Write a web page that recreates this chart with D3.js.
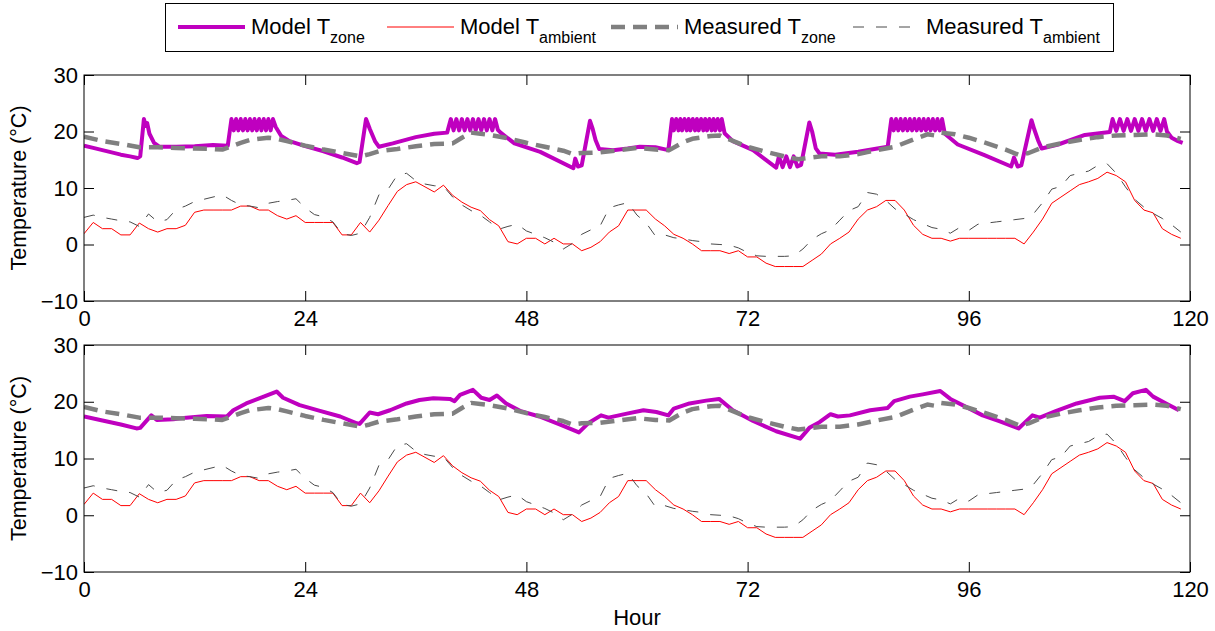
<!DOCTYPE html>
<html>
<head>
<meta charset="utf-8">
<script src="https://cdn.jsdelivr.net/npm/d3@7"></script>
<style>
  html, body { margin: 0; padding: 0; background: #fff; }
  svg { display: block; }
</style>
</head>
<body>
<svg id="chart" width="1215" height="631"></svg>
<script>
// ---- data -------------------------------------------------------------
const hourTicks = [0, 24, 48, 72, 96, 120];
const tempTicks = [-10, 0, 10, 20, 30];

const seriesNames = ["Model T", "Model T", "Measured T", "Measured T"];
const seriesSubs = ["zone", "ambient", "zone", "ambient"];

// hourly ambient temperatures, hour 0 .. 119
const modelAmbient = [
  1.9, 3.9, 2.8, 2.8, 1.7, 1.7, 3.8, 2.8, 2.2, 2.8,
  2.8, 3.4, 5.7, 6.1, 6.1, 6.1, 6.1, 6.8, 6.8, 6.1,
  6.1, 5.1, 4.5, 5.1, 3.9, 3.9, 3.9, 3.9, 1.7, 1.7,
  3.9, 2.2, 4.3, 6.9, 9.4, 10.6, 11.1, 10.2, 9.3, 10.5,
  8.7, 7.5, 6.6, 6.0, 4.4, 3.3, 0.5, 0.1, 1.1, 1.1,
  0.1, 1.1, 0.1, 0.1, -1.1, -0.5, 0.5, 2.2, 3.3, 6.1,
  6.1, 6.1, 4.5, 3.3, 1.8, 1.1, 0.1, -1.1, -1.1, -1.1,
  -1.6, -1.1, -2.2, -2.2, -3.3, -3.9, -3.9, -3.9, -3.9, -2.8,
  -1.7, 0.1, 1.1, 2.2, 4.5, 6.1, 6.7, 7.8, 7.8, 6.1,
  3.4, 1.8, 1.1, 1.1, 0.6, 1.1, 1.1, 1.1, 1.1, 1.1,
  1.1, 1.1, 0.1, 2.2, 4.5, 7.3, 8.4, 9.5, 10.6, 11.1,
  11.7, 12.8, 12.2, 11.1, 7.8, 6.1, 5.6, 2.8, 1.8, 1.1
];

const measuredAmbient = [
  4.8, 5.2, 4.8, 4.5, 4.2, 4.0, 3.2, 5.4, 4.0, 4.4,
  6.2, 6.8, 7.6, 8.0, 8.4, 8.8, 7.8, 7.0, 6.8, 6.5,
  7.3, 7.6, 7.8, 8.1, 6.5, 5.3, 4.9, 4.0, 1.9, 1.6,
  2.0, 4.8, 8.8, 9.8, 12.3, 12.6, 11.3, 10.7, 10.4, 10.3,
  8.4, 7.0, 6.0, 5.2, 4.0, 2.7, 3.2, 3.6, 2.4, 1.8,
  1.2, 0.4, -0.8, 0.2, 1.8, 2.6, 3.3, 6.5, 7.0, 7.4,
  5.2, 3.8, 1.5, 1.7, 1.2, 1.0, 0.7, 0.5, 0.1, 0.0,
  -0.1, -0.6, -1.4, -2.0, -2.1, -2.1, -2.1, -2.0, -0.8, 0.9,
  1.9, 2.6, 4.3, 6.0, 6.7, 9.2, 8.9, 7.8, 6.3, 5.4,
  4.4, 3.7, 3.0, 2.7, 2.0, 3.0, 2.5, 3.6, 3.8, 4.0,
  4.2, 4.4, 4.6, 5.4, 7.4, 9.8, 10.3, 12.2, 12.6, 13.0,
  14.0, 14.3, 12.6, 10.2, 8.0, 6.6, 5.5, 4.6, 3.5, 2.2
];

// measured zone temperature, [hour, °C]
const measuredZone = [
  [0, 19.1], [2, 18.3], [4, 17.8], [6, 17.2], [8, 17.2], [10, 17.1],
  [12, 17.0], [14, 16.9], [15, 16.8], [16, 17.4], [17, 18.0], [18, 18.5],
  [20, 18.9], [21, 18.7], [22, 18.3], [24, 17.5], [26, 16.8], [28, 16.2],
  [30, 15.6], [31, 16.0], [32, 16.5], [34, 16.9], [36, 17.4], [38, 17.8],
  [40, 17.9], [41, 18.9], [42, 19.8], [43, 19.6], [44, 19.4], [46, 18.8],
  [48, 18.0], [50, 17.3], [52, 16.6], [53, 16.0], [54, 16.2], [56, 16.3],
  [58, 16.7], [60, 17.1], [62, 16.8], [63.5, 16.7], [65, 18.1], [66, 18.7],
  [68, 19.2], [69, 19.3], [70, 18.6], [72, 17.3], [74, 16.4], [76, 15.6],
  [77.5, 15.1], [80, 15.6], [82, 15.6], [84, 16.0], [86, 16.7], [88, 17.3],
  [90, 18.6], [91.5, 19.5], [92.3, 19.3], [93, 19.8], [94.5, 19.5], [96, 18.9],
  [98, 17.9], [100, 16.8], [101.5, 15.8], [102.5, 16.2], [104, 17.2], [106, 17.9],
  [108, 18.5], [110, 19.0], [112, 19.3], [114, 19.4], [116, 19.5], [117.5, 19.3],
  [119, 18.7]
];

// model zone temperature with on/off thermostat cycling, [hour, °C]
const modelZoneCycling = [
  [0, 17.5], [1, 17.1], [2, 16.7], [3, 16.3], [4, 15.9], [5, 15.6], [5.8, 15.3],
  [6.1, 15.6], [6.5, 22.2], [6.7, 21.0], [6.85, 21.5], [7.1, 19.6], [7.6, 18.0],
  [8.2, 17.3], [10, 17.3], [12, 17.4], [14, 17.6], [15.6, 17.5],
  [16.0, 22.2], [16.25, 20.2], [16.5, 22.2], [16.75, 20.2], [17.0, 22.2], [17.25, 20.2],
  [17.5, 22.2], [17.75, 20.2], [18.0, 22.2], [18.25, 20.2], [18.5, 22.2], [18.75, 20.2],
  [19.0, 22.2], [19.25, 20.2], [19.5, 22.2], [19.75, 20.2], [20.0, 22.2], [20.25, 20.2],
  [20.5, 22.2], [20.8, 20.8], [21.4, 19.2], [22.3, 18.3], [24, 17.4], [26, 16.5],
  [28, 15.4], [29.6, 14.4], [29.9, 14.6], [30.6, 22.2], [31.0, 20.5], [31.6, 18.2],
  [32, 17.3], [33.5, 17.9], [36, 19.0], [38, 19.6], [39.4, 19.8],
  [39.8, 22.2], [40.1, 20.2], [40.4, 22.2], [40.7, 20.2], [41.0, 22.2], [41.3, 20.2],
  [41.6, 22.2], [41.9, 20.2], [42.2, 22.2], [42.5, 20.2], [42.8, 22.2], [43.1, 20.2],
  [43.4, 22.2], [43.7, 20.2], [44.0, 22.2], [44.3, 20.2], [44.6, 22.2], [44.9, 20.3],
  [45.2, 19.8], [46.7, 17.9], [49.5, 16.4], [53.1, 13.5], [53.3, 15.2], [53.6, 13.8],
  [54.0, 14.0], [54.9, 21.9], [55.2, 20.4], [55.5, 18.5], [55.9, 16.9], [57.4, 16.7],
  [59, 17.0], [60.3, 17.3], [62, 17.2], [63.4, 16.7],
  [63.8, 22.2], [64.0, 20.2], [64.25, 22.2], [64.5, 20.2], [64.7, 22.2], [64.9, 20.2],
  [65.15, 22.2], [65.4, 20.2], [65.6, 22.2], [65.8, 20.2], [66.05, 22.2], [66.3, 20.2],
  [66.5, 22.2], [66.7, 20.2], [66.95, 22.2], [67.2, 20.2], [67.4, 22.2], [67.6, 20.2],
  [67.85, 22.2], [68.1, 20.2], [68.3, 22.2], [68.5, 20.2], [68.75, 22.2], [69.0, 20.2],
  [69.2, 22.2], [69.5, 19.7], [70.4, 18.3], [72.6, 16.7], [75.1, 13.6], [75.4, 15.6],
  [75.8, 13.7], [76.2, 15.6], [76.6, 13.7], [77.0, 15.6], [77.4, 13.8], [77.8, 14.1],
  [78.7, 21.6], [79.0, 20.0], [79.4, 17.0], [79.8, 16.1], [81.5, 15.9], [84, 16.4],
  [87.2, 17.3],
  [87.6, 22.2], [87.85, 20.2], [88.1, 22.2], [88.35, 20.2], [88.6, 22.2], [88.85, 20.2],
  [89.1, 22.2], [89.35, 20.2], [89.6, 22.2], [89.85, 20.2], [90.1, 22.2], [90.35, 20.2],
  [90.6, 22.2], [90.85, 20.2], [91.1, 22.2], [91.35, 20.2], [91.6, 22.2], [91.85, 20.2],
  [92.1, 22.2], [92.35, 20.2], [92.6, 22.2], [92.85, 20.2], [93.1, 22.2], [93.4, 19.6],
  [94.8, 17.7], [97.7, 15.8], [100.6, 13.8], [100.9, 15.4], [101.3, 13.8], [101.7, 14.0],
  [102.8, 22.0], [103.1, 20.4], [103.5, 18.5], [103.9, 17.0], [105.7, 17.7], [108.6, 19.4],
  [111.3, 19.9],
  [111.6, 22.2], [112.0, 20.1], [112.4, 22.2], [112.8, 20.1], [113.2, 22.2], [113.6, 20.1],
  [114.0, 22.2], [114.4, 20.1], [114.8, 22.2], [115.2, 20.1], [115.6, 22.2], [116.0, 20.1],
  [116.4, 22.2], [116.8, 20.1], [117.2, 22.2], [117.5, 20.0], [118.0, 18.9], [118.7, 18.3],
  [119.2, 18.0]
];

// model zone temperature with continuous control, [hour, °C]
const modelZoneSmooth = [
  [0, 17.4], [2, 16.7], [4, 16.0], [5.7, 15.3], [6.1, 15.4], [7.3, 17.6], [7.9, 16.8],
  [9.7, 16.9], [11.1, 17.2], [13.3, 17.5], [15.5, 17.4], [16.2, 18.5], [17.6, 19.7],
  [19.5, 20.9], [20.9, 21.8], [21.6, 20.7], [23.4, 19.4], [25.6, 18.4], [27.8, 17.4],
  [29.6, 16.2], [29.9, 16.1], [31, 18.1], [31.9, 17.8], [33.2, 18.5], [35, 19.7],
  [36.4, 20.3], [37.9, 20.6], [39.7, 20.5], [40.2, 20.1], [40.8, 21.2], [42.2, 22.1],
  [43.1, 20.7], [44, 20.3], [44.8, 21.1], [45.8, 19.7], [47.3, 18.4], [49.4, 17.4],
  [51.6, 16.0], [53.7, 14.6], [54.7, 16.2], [56.1, 17.6], [56.9, 17.2], [58.9, 17.9],
  [60.7, 18.5], [62.1, 18.2], [63.4, 17.6], [64, 18.8], [65.7, 19.7], [67.5, 20.2],
  [68.9, 20.5], [70.4, 18.5], [72.6, 16.6], [75.1, 14.8], [77.7, 13.5], [78.7, 15.4],
  [79.8, 16.4], [81, 17.8], [81.8, 17.4], [83.1, 17.6], [85.3, 18.5], [87.2, 18.9],
  [87.9, 20.1], [89.6, 20.9], [91, 21.3], [92.9, 21.9], [94, 20.5], [95.7, 19.1],
  [97.5, 17.6], [99.3, 16.6], [101.4, 15.3], [102.9, 17.6], [103.7, 17.2], [105.5, 18.4],
  [107.7, 19.7], [110.2, 20.7], [111.7, 20.9], [112.9, 20.1], [113.8, 21.5], [115.2, 22.1],
  [116, 20.9], [117.4, 19.7], [118.8, 18.5]
];

// ---- styles -----------------------------------------------------------
const FONT = "'Liberation Sans', Arial, Helvetica, sans-serif";
const styles = [
  { stroke: "#bf00bf", width: 4, dash: null },
  { stroke: "#ff0000", width: 1, dash: null },
  { stroke: "#808080", width: 4.5, dash: "14,8" },
  { stroke: "#4a4a4a", width: 1, dash: "11,12" }
];

const svg = d3.select("#chart");
const left = 84, right = 1190;
const x = d3.scaleLinear().domain([0, 120]).range([left, right]);

function drawPanel(top, bottom, modelZone, id, showXLabel) {
  const y = d3.scaleLinear().domain([-10, 30]).range([bottom, top]);
  const g = svg.append("g");

  g.append("clipPath").attr("id", id)
    .append("rect").attr("x", left).attr("y", top)
    .attr("width", right - left).attr("height", bottom - top);

  const plot = g.append("g").attr("clip-path", `url(#${id})`);
  const line = d3.line().x(d => x(d[0])).y(d => y(d[1]));

  const seriesData = [
    modelZone,
    modelAmbient.map((v, i) => [i, v]),
    measuredZone,
    measuredAmbient.map((v, i) => [i, v])
  ];

  seriesData.forEach((data, k) => {
    const s = styles[k];
    plot.append("path")
      .datum(data)
      .attr("d", line)
      .attr("fill", "none")
      .attr("stroke", s.stroke)
      .attr("stroke-width", s.width)
      .attr("stroke-linejoin", "round")
      .attr("stroke-dasharray", s.dash);
  });

  // axes with inward ticks on all four sides
  const xb = g.append("g").attr("transform", `translate(0,${bottom})`)
    .call(d3.axisBottom(x).tickValues(hourTicks).tickSize(-10).tickSizeOuter(0).tickPadding(9));
  const xt = g.append("g").attr("transform", `translate(0,${top})`)
    .call(d3.axisTop(x).tickValues(hourTicks).tickSize(-10).tickSizeOuter(0).tickFormat(""));
  const yl = g.append("g").attr("transform", `translate(${left},0)`)
    .call(d3.axisLeft(y).tickValues(tempTicks).tickSize(-10).tickSizeOuter(0).tickPadding(6)
      .tickFormat(d => d < 0 ? "\u2212" + Math.abs(d) : String(d)));
  const yr = g.append("g").attr("transform", `translate(${right},0)`)
    .call(d3.axisRight(y).tickValues(tempTicks).tickSize(-10).tickSizeOuter(0).tickFormat(""));

  [xb, xt, yl, yr].forEach(a => {
    a.select(".domain").remove();
    a.selectAll("line").attr("stroke", "#000").attr("stroke-width", 1);
    a.selectAll("text").attr("font-family", FONT).attr("font-size", 22).attr("fill", "#000");
  });

  g.append("rect")
    .attr("x", left).attr("y", top)
    .attr("width", right - left).attr("height", bottom - top)
    .attr("fill", "none").attr("stroke", "#000").attr("stroke-width", 1);

  g.append("text")
    .attr("transform", `translate(26,${(top + bottom) / 2}) rotate(-90)`)
    .attr("text-anchor", "middle")
    .attr("font-family", FONT).attr("font-size", 21.5)
    .text("Temperature (°C)");

  if (showXLabel) {
    g.append("text")
      .attr("x", (left + right) / 2).attr("y", 625)
      .attr("text-anchor", "middle")
      .attr("font-family", FONT).attr("font-size", 22)
      .text("Hour");
  }
}

drawPanel(75, 301, modelZoneCycling, "clipTop", false);
drawPanel(345, 572, modelZoneSmooth, "clipBottom", true);

// ---- legend -----------------------------------------------------------
const legend = svg.append("g");
legend.append("rect")
  .attr("x", 165.5).attr("y", 3.5).attr("width", 948).attr("height", 48)
  .attr("fill", "#fff").attr("stroke", "#000").attr("stroke-width", 1);

const legendX = [178, 387, 611, 853];
seriesNames.forEach((name, k) => {
  const s = styles[k];
  const x0 = legendX[k];
  legend.append("line")
    .attr("x1", x0).attr("x2", x0 + 67).attr("y1", 27).attr("y2", 27)
    .attr("stroke", s.stroke).attr("stroke-width", s.width)
    .attr("stroke-dasharray", s.dash);
  const t = legend.append("text")
    .attr("x", x0 + 73).attr("y", 34)
    .attr("font-family", FONT).attr("font-size", 22);
  t.append("tspan").text(name);
  t.append("tspan").attr("dy", 9).attr("font-size", 16).text(seriesSubs[k]);
});
</script>
</body>
</html>
